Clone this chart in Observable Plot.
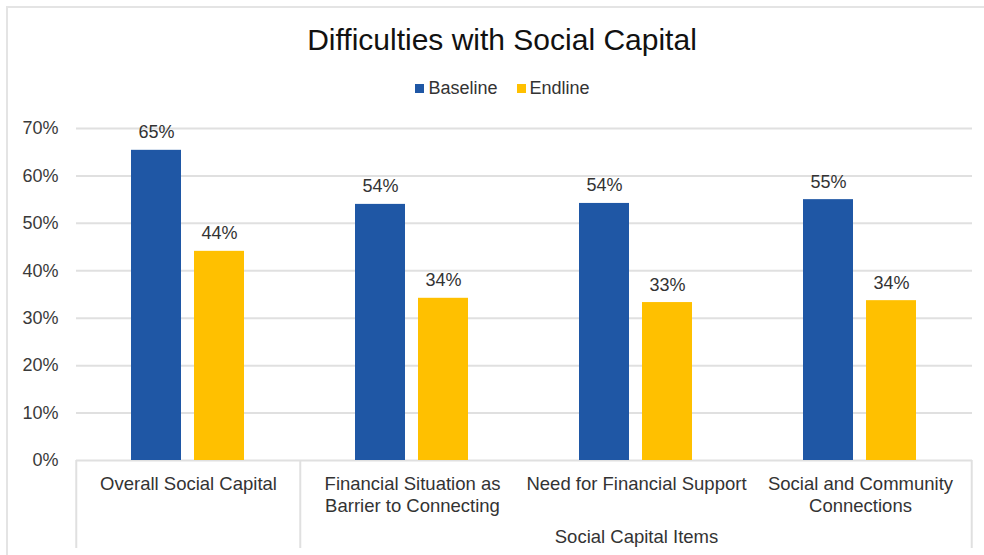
<!DOCTYPE html>
<html>
<head>
<meta charset="utf-8">
<script src="https://cdn.jsdelivr.net/npm/d3@7"></script>
<script src="https://cdn.jsdelivr.net/npm/@observablehq/plot@0.6"></script>
<style>
  body { margin: 0; background: #fff; font-family: "Liberation Sans", Arial, sans-serif; }
  #wrap { position: relative; width: 984px; height: 555px; overflow: hidden; background: #fff; }
  #border { position: absolute; left: 6px; top: 6px; width: 1000px; height: 600px;
            border-left: 2px solid #e4e4e4; border-top: 2px solid #e4e4e4; }
  #title { position: absolute; left: 0; top: 22px; width: 1004px; text-align: center;
           font-size: 30px; line-height: 36px; color: #111; }
  #legend { position: absolute; left: 0; top: 78px; width: 1005px; display: flex;
            justify-content: center; gap: 19px; font-size: 18px; line-height: 20px; color: #333; }
  .item { display: flex; align-items: center; gap: 4px; }
  .sw { width: 9px; height: 9px; display: inline-block; }
  #chart { position: absolute; left: 0; top: 100px; }
</style>
</head>
<body>
<div id="wrap">
  <div id="border"></div>
  <div id="title"></div>
  <div id="legend"></div>
  <div id="chart"></div>
</div>
<script>
// ---- data ----
const titleText = "Difficulties with Social Capital";
const axisTitle = "Social Capital Items";
const categories = [
  "Overall Social Capital",
  "Financial Situation as Barrier to Connecting",
  "Need for Financial Support",
  "Social and Community Connections"
];
const categoryLabels = [
  "Overall Social Capital",
  "Financial Situation as\nBarrier to Connecting",
  "Need for Financial Support",
  "Social and Community\nConnections"
];
const seriesNames = ["Baseline", "Endline"];
const baselineValues = [0.654, 0.540, 0.542, 0.550];
const endlineValues = [0.441, 0.342, 0.333, 0.337];
const yTicks = [0, 0.1, 0.2, 0.3, 0.4, 0.5, 0.6, 0.7];
const colors = ["#1F57A5", "#FFC000"];

const data = categories.flatMap((c, i) => [
  {category: c, series: seriesNames[0], value: baselineValues[i]},
  {category: c, series: seriesNames[1], value: endlineValues[i]}
]);

// ---- layout ----
const W = 984, H = 455, mL = 75, mR = 11, mT = 28, mB = 95;
const padInner = 13 / 64, padOuter = 0.855;
const facetW = (W - mL - mR) / categories.length;
const step = facetW / (seriesNames.length - padInner + 2 * padOuter);
const dividerOffset = step * (padOuter + (1 - padInner) / 2);
const pxPerUnit = (H - mT - mB) / 0.7;
const dividerDepth = 88 / pxPerUnit;
const grid = "#e0e0e0";
const textColor = "#333333";
const fmt = d3.format(".0%");

document.getElementById("title").textContent = titleText;
const legend = document.getElementById("legend");
seriesNames.forEach((s, i) => {
  const it = document.createElement("div");
  it.className = "item";
  const sw = document.createElement("span");
  sw.className = "sw";
  sw.style.background = colors[i];
  const t = document.createElement("span");
  t.textContent = s;
  it.append(sw, t);
  legend.append(it);
});

const chart = Plot.plot({
  width: W, height: H,
  marginLeft: mL, marginRight: mR, marginTop: mT, marginBottom: mB,
  style: {fontFamily: "'Liberation Sans', Arial, sans-serif", fontSize: "18px", color: "#3a3a3a", background: "transparent", overflow: "visible"},
  fx: {domain: categories, padding: 0, axis: null},
  x: {domain: seriesNames, paddingInner: padInner, paddingOuter: padOuter, axis: null},
  y: {domain: [0, 0.7], ticks: yTicks, tickFormat: fmt, tickSize: 0, tickPadding: 18, label: null},
  color: {domain: seriesNames, range: colors},
  marks: [
    Plot.ruleY(yTicks, {y: d => d, stroke: grid, strokeWidth: 2}),
    Plot.ruleX([categories[0], categories[1]], {fx: d => d, x: () => seriesNames[0], y1: () => 0, y2: () => -dividerDepth, dx: -dividerOffset, stroke: grid, strokeWidth: 2}),
    Plot.ruleX([categories[3]], {fx: d => d, x: () => seriesNames[1], y1: () => 0, y2: () => -dividerDepth, dx: dividerOffset, stroke: grid, strokeWidth: 2}),
    Plot.barY(data, {fx: "category", x: "series", y: "value", fill: "series"}),
    Plot.text(data, {fx: "category", x: "series", y: "value", text: d => fmt(d.value), lineAnchor: "bottom", dy: -12, fill: textColor, fontSize: 18}),
    Plot.text(categories, {fx: d => d, text: d => categoryLabels[categories.indexOf(d)], frameAnchor: "bottom", lineAnchor: "top", dy: 13, lineHeight: 1.22, fill: textColor, fontSize: 18.5}),
    Plot.text([axisTitle], {fx: () => categories[2], text: d => d, frameAnchor: "bottom", lineAnchor: "top", dy: 69, fill: textColor, fontSize: 18.5})
  ]
});
document.getElementById("chart").append(chart);
</script>
</body>
</html>
